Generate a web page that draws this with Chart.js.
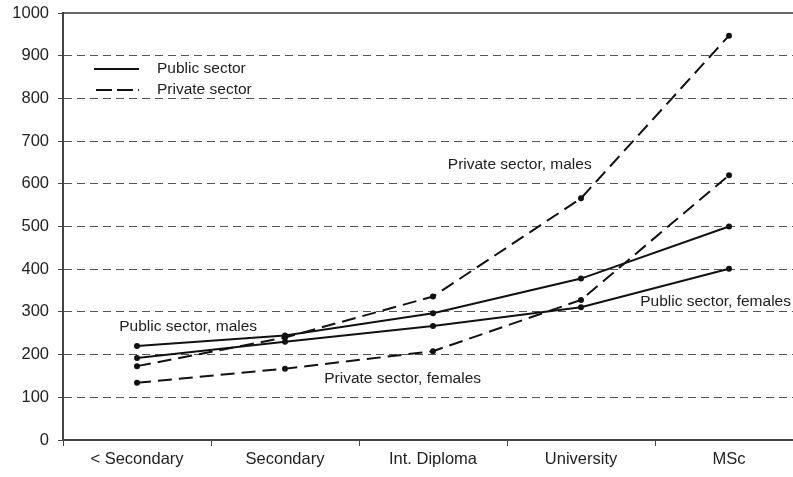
<!DOCTYPE html>
<html>
<head>
<meta charset="utf-8">
<script src="https://cdn.jsdelivr.net/npm/chart.js@4/dist/chart.umd.min.js"></script>
<style>
  html, body { margin: 0; padding: 0; background: #fff; overflow: hidden; }
  #wrap { width: 793px; height: 477px; overflow: hidden; }
</style>
</head>
<body>
<div id="wrap"><canvas id="chart" width="806" height="477"></canvas></div>
<script>
(() => {
  "use strict";

  // Data
  const categories = ["< Secondary", "Secondary", "Int. Diploma", "University", "MSc"];
  const publicMales = [220, 245, 297, 378, 500];
  const publicFemales = [192, 230, 267, 311, 401];
  const privateMales = [173, 240, 336, 566, 947];
  const privateFemales = [134, 167, 208, 328, 620];
  const yTicks = [0, 100, 200, 300, 400, 500, 600, 700, 800, 900, 1000];

  // Text notes, anchored in data units (category index, value)
  const notes = [
    { text: "Public sector, males", x: -0.12, y: 265 },
    { text: "Private sector, females", x: 1.265, y: 143 },
    { text: "Public sector, females", x: 3.40, y: 323 },
    { text: "Private sector, males", x: 2.10, y: 644 }
  ];

  const FONT = "'Liberation Sans', Arial, sans-serif";
  const INK = "#111";
  const SOLID = [];
  const DASH = [14, 7];

  const series = (label, data, dash) => ({
    label, data,
    borderColor: INK, backgroundColor: INK,
    borderWidth: 2, borderDash: dash,
    pointRadius: 3, pointHoverRadius: 3,
    pointBackgroundColor: INK, pointBorderWidth: 0,
    tension: 0, fill: false
  });

  const extras = {
    id: "extras",
    afterDraw(chart) {
      const { ctx, chartArea: a, scales: { x, y } } = chart;
      ctx.save();
      // top frame line
      ctx.strokeStyle = "#333"; ctx.lineWidth = 1.5;
      ctx.beginPath(); ctx.moveTo(a.left, a.top); ctx.lineTo(a.right, a.top); ctx.stroke();

      // legend
      ctx.strokeStyle = INK; ctx.lineWidth = 2;
      ctx.setLineDash(SOLID);
      ctx.beginPath(); ctx.moveTo(94, 69); ctx.lineTo(139, 69); ctx.stroke();
      ctx.setLineDash([16, 5]);
      ctx.beginPath(); ctx.moveTo(96, 90); ctx.lineTo(139, 90); ctx.stroke();
      ctx.setLineDash([]);
      ctx.fillStyle = "#222";
      ctx.font = `15.5px ${FONT}`;
      ctx.textBaseline = "middle"; ctx.textAlign = "left";
      ctx.fillText("Public sector", 157, 69);
      ctx.fillText("Private sector", 157, 90);

      // notes
      notes.forEach(n => ctx.fillText(n.text, x.getPixelForValue(n.x), y.getPixelForValue(n.y)));
      ctx.restore();
    }
  };

  new Chart(document.getElementById("chart"), {
    type: "line",
    data: {
      labels: categories,
      datasets: [
        series("Public sector, males", publicMales, SOLID),
        series("Public sector, females", publicFemales, SOLID),
        series("Private sector, males", privateMales, DASH),
        series("Private sector, females", privateFemales, DASH)
      ]
    },
    options: {
      responsive: false,
      animation: false,
      devicePixelRatio: 1,
      layout: { padding: { top: 13, right: 0, left: 0, bottom: 0 } },
      plugins: { legend: { display: false }, tooltip: { enabled: false } },
      scales: {
        x: {
          type: "category",
          offset: true,
          grid: { offset: true, drawOnChartArea: false, drawTicks: true, tickLength: 6, color: "#444", lineWidth: 1 },
          border: { display: true, color: "#444", width: 2 },
          ticks: { color: "#222", font: { family: FONT, size: 16.5 }, padding: 4, maxRotation: 0, autoSkip: false },
          afterFit: s => { s.height = 37; s.paddingLeft = 0; s.paddingRight = 0; }
        },
        y: {
          min: 0, max: 1000,
          afterBuildTicks: s => { s.ticks = yTicks.map(v => ({ value: v })); },
          grid: {
            drawOnChartArea: true, drawTicks: true, tickLength: 5,
            color: c => (c.tick && (c.tick.value === 0 || c.tick.value === 1000)) ? "rgba(0,0,0,0)" : "#555",
            tickColor: "#444", lineWidth: 1
          },
          border: { display: true, color: "#444", width: 2, dash: [8, 5] },
          ticks: { color: "#222", font: { family: FONT, size: 16.5 }, padding: 9, callback: v => String(v) },
          afterFit: s => { s.width = 63; s.paddingTop = 0; s.paddingBottom = 0; }
        }
      }
    },
    plugins: [extras]
  });
})();
</script>
</body>
</html>
